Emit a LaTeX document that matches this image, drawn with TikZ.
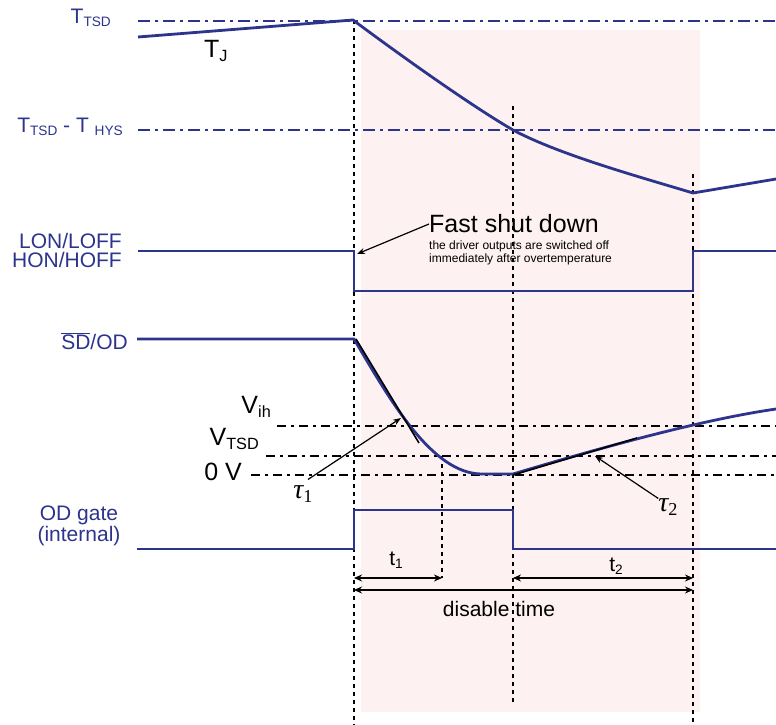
\documentclass[tikz,border=0pt]{standalone}
\usepackage{fontspec}
\setmainfont{Liberation Sans}
\newfontfamily\taufont{Liberation Serif}
\usetikzlibrary{arrows.meta}
\definecolor{sigc}{RGB}{44,52,140}
\definecolor{shadec}{RGB}{253,242,241}
\newcommand{\subtxt}[1]{\raisebox{-0.3ex}{\scalebox{0.65}{#1}}}
\tikzset{
  sig/.style={line width=2.8pt,sigc},
  lvl/.style={line width=1.8pt,sigc,dash pattern=on 12pt off 5pt on 3pt off 5pt},
  lvlk/.style={line width=1.5pt,black,dash pattern=on 9pt off 5pt on 3pt off 5pt},
  vdash/.style={line width=1.4pt,black,dash pattern=on 4pt off 4pt},
  tang/.style={line width=1.6pt,black},
  lab/.style={font=\fontsize{21}{19}\selectfont,text=sigc,inner sep=0pt},
  bigl/.style={font=\fontsize{25}{27}\selectfont,inner sep=0pt},
  taul/.style={font=\taufont\fontsize{28}{30}\selectfont,inner sep=0pt},
  dimarr/.style={{Stealth[length=8pt,width=7pt]}-{Stealth[length=8pt,width=7pt]},line width=1.3pt},
  ann/.style={-{Stealth[length=8pt,width=6pt]},line width=1.2pt},
}

\begin{document}
\begin{tikzpicture}[x=1pt,y=-1pt]
  \useasboundingbox (0,0) rectangle (776,725);
  \fill[shadec] (361,30) rectangle (700,712);
  % threshold levels
  \draw[lvl] (138,21) -- (776,21); \draw[lvl] (138,130) -- (776,130);
  \draw[lvlk] (277,426) -- (776,426); \draw[lvlk] (266,456) -- (776,456);
  \draw[lvlk] (251,475) -- (776,475);
  % time markers
  \draw[vdash] (354,20) -- (354,725); \draw[vdash] (513,106) -- (513,704);
  \draw[vdash] (693,174) -- (693,725); \draw[vdash] (442,456) -- (442,578);
  % waveforms
  \draw[sig] (138,37) -- (353,20) .. controls (400,55) and (470,105) .. (513,130)
    .. controls (560,155) and (640,177) .. (693,193) -- (776,179);
  \draw[sig] (138,251) -- (354,251) -- (354,291) -- (693,291) -- (693,251) -- (776,251);
  \draw[sig] (137,339) -- (354,339) .. controls (390,400) and (432,474) .. (482,474) -- (513,474)
    .. controls (600,448) and (700,420) .. (776,409);
  \draw[sig] (137,549) -- (354,549) -- (354,510) -- (513,510) -- (513,549) -- (776,549);
  \draw[tang] (356,339) -- (419,443); \draw[tang] (513,475) -- (637,438);
  % signal names
  \node[lab,anchor=east] (ttsd) at (111,18) {T\subtxt{TSD}};
  \node[lab,anchor=east] (thys) at (123,127) {T\subtxt{TSD} - T \subtxt{HYS}};
  \node[lab,anchor=east,align=right] (lon) at (122,250) {LON/LOFF\\HON/HOFF};
  \node[lab,anchor=east] (sdod) at (128,341) {$\overline{\mbox{SD}}$/OD};
  \node[lab,align=center] (odg) at (79,526) {OD gate\\(internal)};
  \node[bigl,anchor=west] (tj) at (204,51) {T\subtxt{J}};
  \node[bigl,anchor=east] (vih) at (271,407) {V\subtxt{ih}};
  \node[bigl,anchor=east] (vtsd) at (259,439) {V\subtxt{TSD}};
  \node[bigl,anchor=east] (zerov) at (242,472) {0 V};
  % shut down note
  \node[bigl,anchor=west] (fsd) at (429,224) {Fast shut down};
  \node[anchor=north west,inner sep=0pt,align=left,font=\fontsize{12}{11}\selectfont] (fsdtxt) at (429,241)
    {the driver outputs are switched off\\immediately after overtemperature};
  \coordinate (fsdtip) at (357,254);
  \draw[ann] (fsd.west) -- (fsdtip);
  % time constants
  \node[taul] (tau1) at (303,494) {\itshape τ\subtxt{\upshape 1}};
  \coordinate (tau1tip) at (401,418);
  \draw[ann] ([shift={(5pt,6pt)}]tau1.north) -- (tau1tip);
  \node[taul] (tau2) at (668,507) {\itshape τ\subtxt{\upshape 2}};
  \coordinate (tau2tip) at (595,456);
  \draw[ann] (tau2.north west) -- (tau2tip);
  % durations
  \coordinate (ta) at (354,578); \coordinate (tb) at (442,578);
  \coordinate (tc) at (513,578); \coordinate (td) at (693,578);
  \coordinate (da) at (354,590); \coordinate (db) at (693,590);
  \draw[dimarr] (ta) -- (tb); \draw[dimarr] (tc) -- (td); \draw[dimarr] (da) -- (db);
  \node[lab,text=black] (t1) at (396,560) {t\subtxt{1}};
  \node[lab,text=black] (t2) at (616,566) {t\subtxt{2}};
  \node[lab,text=black] (dis) at (499,609) {disable time};
\end{tikzpicture}
\end{document}
